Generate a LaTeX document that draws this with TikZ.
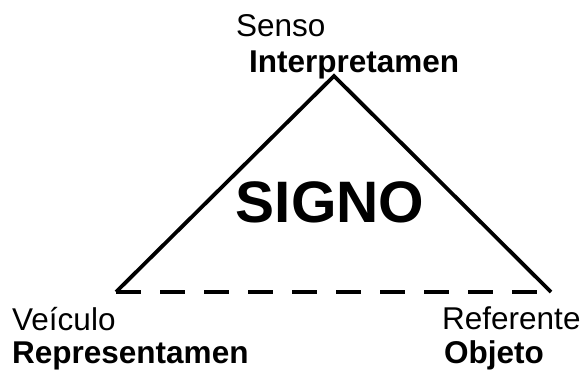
\documentclass[tikz,border=0pt]{standalone}
\usepackage{fontspec}
\setmainfont{Liberation Sans}
\usetikzlibrary{positioning}
\definecolor{ink}{HTML}{000000}
\tikzset{
  side/.style={line width=3.8pt,color=ink,line join=miter},
  base/.style={side,dash pattern=on 25pt off 19pt},
  lbl/.style={anchor=base west,inner sep=0pt,font=\fontsize{31.5}{36}\selectfont,text=ink},
  bold/.style={lbl,font=\fontsize{31.5}{36}\selectfont\bfseries},
}

\begin{document}
\begin{tikzpicture}[x=1pt,y=1pt]
    \useasboundingbox (0,0) rectangle (584,372);
    % corners of the sign triangle
    \coordinate (apex) at (334,296);
    \coordinate (veic) at (116,80);
    \coordinate (refe) at (551,80);
    \draw[side] (veic) -- (apex) -- (refe);
    \draw[base] (veic) -- (refe);
    % labels
    \node[lbl] (senso) at (236,335) {Senso};
    \node[bold] (interp) at (249,299) {Interpretamen};
    \node[anchor=base,inner sep=0pt,font=\fontsize{58.5}{64}\selectfont\bfseries] (signo) at (330,149) {SIGNO};
    \node[lbl] (veiculo) at (12,41) {Veículo};
    \node[bold] (repres) at (12,8) {Representamen};
    \node[lbl] (referente) at (442,42) {Referente};
    \node[bold] (objeto) at (444,8) {Objeto};
  \end{tikzpicture}
\end{document}
